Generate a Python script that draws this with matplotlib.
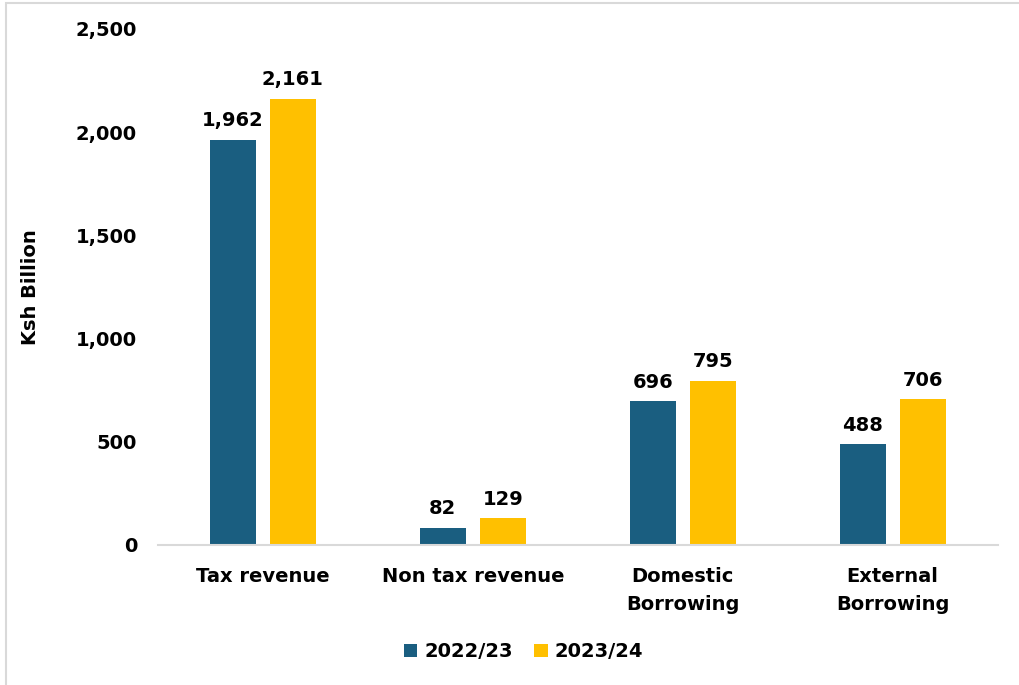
import matplotlib.pyplot as plt
from matplotlib.patches import Rectangle
import numpy as np

categories = ["Tax revenue", "Non tax revenue", "Domestic\nBorrowing", "External\nBorrowing"]
fy2223 = [1962, 82, 696, 488]
fy2324 = [2161, 129, 795, 706]
series_names = ["2022/23", "2023/24"]
yticks = [0, 500, 1000, 1500, 2000, 2500]

TEAL = '#1A5E80'
GOLD = '#FFC000'
FS = 14

plt.rcParams['font.family'] = ['DejaVu Sans']
plt.rcParams['font.weight'] = 'bold'

fig = plt.figure(figsize=(10.19, 6.85), dpi=100)
ax = fig.add_axes([0.155, 0.2044, 0.824, 0.7533])

x = np.arange(len(categories))
w = 0.219
off = 0.143
b1 = ax.bar(x - off, fy2223, w, color=TEAL, label=series_names[0])
b2 = ax.bar(x + off, fy2324, w, color=GOLD, label=series_names[1])

for bars in (b1, b2):
    ax.bar_label(bars, labels=[f'{v:,.0f}' for v in bars.datavalues],
                 padding=7, fontsize=FS, fontweight='bold')

ax.set_xlim(-0.5, 3.5)
ax.set_ylim(0, 2500)
ax.set_yticks(yticks)
ax.set_yticklabels([f'{v:,}' for v in yticks], fontsize=FS, fontweight='bold')
ax.set_xticks(x)
ax.set_xticklabels(categories, fontsize=FS, fontweight='bold', linespacing=1.6)
ax.tick_params(axis='both', length=0)
ax.tick_params(axis='y', pad=15)
ax.tick_params(axis='x', pad=16)

for s in ['top', 'right', 'left']:
    ax.spines[s].set_visible(False)
ax.spines['bottom'].set_color('#D9D9D9')
ax.spines['bottom'].set_linewidth(1.5)

ax.set_ylabel('Ksh Billion', fontsize=FS, fontweight='bold', labelpad=26)

ax.legend(loc='center', bbox_to_anchor=(0.435, -0.207), ncol=2, frameon=False,
          handlelength=0.7, handleheight=0.7, handletextpad=0.35,
          columnspacing=1.1, prop={'weight': 'bold', 'size': FS})

# light outer frame like the exported chart area
fig.patches.append(Rectangle((0.006, -0.01), 1.2, 1.006, transform=fig.transFigure,
                             fill=False, edgecolor='#D9D9D9', linewidth=1.5))

fig.savefig('out.png', dpi=100)
